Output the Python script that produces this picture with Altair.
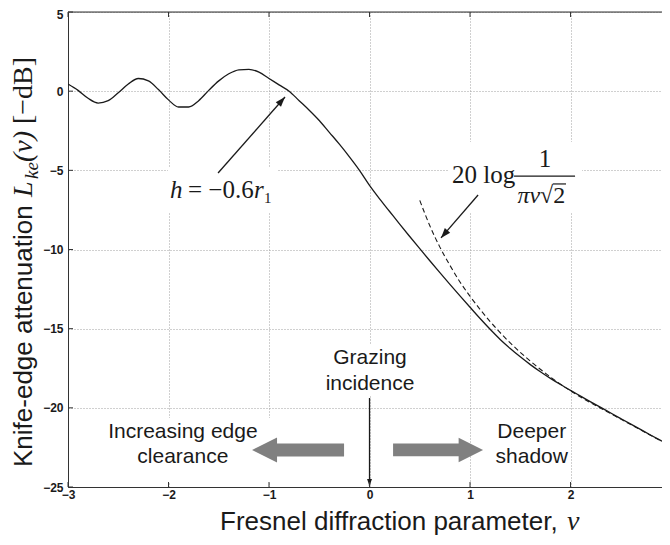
import altair as alt
import pandas as pd

# ---- data ----
v_solid = [-3.0, -2.9, -2.8, -2.7, -2.6, -2.5, -2.4, -2.3, -2.2, -2.1,
           -2.0, -1.9, -1.8, -1.7, -1.6, -1.5, -1.4, -1.3, -1.2, -1.1,
           -1.0, -0.9, -0.8, -0.7, -0.6, -0.5, -0.4, -0.3, -0.2, -0.1,
           0.0, 0.1, 0.2, 0.3, 0.4, 0.5, 0.6, 0.7, 0.8, 0.9,
           1.0, 1.1, 1.2, 1.3, 1.4, 1.5, 1.6, 1.7, 1.8, 1.9,
           2.0, 2.1, 2.2, 2.3, 2.4, 2.5, 2.6, 2.7, 2.8, 2.9, 3.0]
L_solid = [0.45, 0.05, -0.45, -0.75, -0.6, -0.1, 0.45, 0.8, 0.65, 0.1,
           -0.55, -1.0, -1.0, -0.6, 0.05, 0.65, 1.1, 1.35, 1.38, 1.2,
           0.8, 0.4, 0.0, -0.6, -1.2, -1.85, -2.6, -3.35, -4.15, -5.0,
           -5.95, -6.8, -7.6, -8.4, -9.18, -9.95, -10.71, -11.46, -12.2, -12.93,
           -13.65, -14.36, -15.04, -15.68, -16.25, -16.78, -17.27, -17.72, -18.14, -18.53,
           -18.9, -19.26, -19.62, -19.97, -20.33, -20.68, -21.03, -21.38, -21.73, -22.07, -22.4]
v_dash = [0.5, 0.6, 0.7, 0.8, 0.9, 1.0, 1.2, 1.4, 1.6, 1.8, 2.0, 2.2, 2.4, 2.6, 2.8, 3.0]
L_dash = [-6.9, -8.5, -9.85, -11.0, -12.05, -12.95, -14.55, -15.9, -17.05, -18.05,
          -18.93, -19.68, -20.37, -21.06, -21.75, -22.43]
x_ticks = [-3, -2, -1, 0, 1, 2, 3]
y_ticks = [-25, -20, -15, -10, -5, 0, 5]

W, H = 594, 475
SANS = "Liberation Sans"
SERIF = "Liberation Serif"
INK = "#1a1a1a"

xs = alt.Scale(domain=[-3, 2.91], nice=False, zero=False)
ys = alt.Scale(domain=[-25, 5], nice=False, zero=False)

x_axis = alt.Axis(values=x_ticks, title=None, ticks=False, labelFont=SANS, labelFontWeight="bold",
                  labelFontSize=12, labelColor=INK, labelPadding=2, labelFlush=False,
                  labelOverlap=False, domainColor="#333", domainWidth=1,
                  gridColor="#a0a0a0", gridDash=[1, 2], gridWidth=1)
y_axis = alt.Axis(values=y_ticks, title=None, ticks=False, labelFont=SANS, labelFontWeight="bold",
                  labelFontSize=12, labelColor=INK, labelPadding=5, labelFlush=False,
                  labelOverlap=False, domainColor="#333", domainWidth=1,
                  labelOffset={"condition": {"test": "datum.value == 5", "value": 2}, "value": 0},
                  gridColor="#a0a0a0", gridDash=[1, 2], gridWidth=1)

X = alt.X("v:Q", scale=xs, axis=x_axis)
Y = alt.Y("L:Q", scale=ys, axis=y_axis)

solid_df = pd.DataFrame({"v": v_solid, "L": L_solid})
dash_df = pd.DataFrame({"v": v_dash, "L": L_dash})

# white boxes behind labels (hide the grid as in the reference)
box_df = pd.DataFrame({
    "v": [-2.005, 0.781, -2.682, -0.363],
    "v2": [-0.92, 2.114, -0.194, 0.403],
    "L": [-4.79, -3.21, -20.64, -16.03],
    "L2": [-7.70, -7.70, -24.68, -19.19],
})
boxes = alt.Chart(box_df).mark_rect(color="white").encode(
    x=X, x2="v2:Q", y=Y, y2="L2:Q")

solid = alt.Chart(solid_df).mark_line(color=INK, strokeWidth=1.3, clip=True,
                                      interpolate="monotone").encode(x=X, y=Y)
dashed = alt.Chart(dash_df).mark_line(color=INK, strokeWidth=1.1, strokeDash=[5, 3], clip=True,
                                      interpolate="monotone").encode(x=X, y=Y)

# thin arrows
arr_df = pd.DataFrame({
    "v": [-1.507, 1.080, 0.0],
    "L": [-5.17, -6.56, -19.38],
    "v2": [-0.841, 0.711, 0.0],
    "L2": [-0.37, -9.27, -24.94],
    "ang": [41.4, 220.7, 180.0],
    "sz": [278, 278, 136],
})
arr_lines = alt.Chart(arr_df).mark_rule(color=INK, strokeWidth=1.3).encode(
    x=X, x2="v2:Q", y=Y, y2="L2:Q")
head_path = "M0,0L-0.42,1.2L0.42,1.2Z"
arr_heads = alt.Chart(arr_df).mark_point(shape=head_path, filled=True, color=INK, opacity=1,
                                         strokeWidth=0).encode(
    x=alt.X("v2:Q", scale=xs, axis=x_axis), y=alt.Y("L2:Q", scale=ys, axis=y_axis),
    angle=alt.Angle("ang:Q", scale=None), size=alt.Size("sz:Q", scale=None))

# thick grey arrows
big_path = "M-1,0L-0.457,-0.272L-0.457,-0.141L1,-0.141L1,0.141L-0.457,0.141L-0.457,0.272Z"
big_df = pd.DataFrame({"v": [-0.711, 0.682], "L": [-22.66, -22.66],
                       "ang": [0.0, 180.0], "sz": [8464, 8100]})
big_arrows = alt.Chart(big_df).mark_point(shape=big_path, filled=True, color="#808080",
                                          opacity=1, strokeWidth=0).encode(
    x=X, y=Y, angle=alt.Angle("ang:Q", scale=None), size=alt.Size("sz:Q", scale=None))

# sans annotations
sans_df = pd.DataFrame({
    "v": [0.005, 0.005, -1.857, -1.857, 1.614, 1.614],
    "L": [-17.23, -18.87, -21.90, -23.48, -21.90, -23.48],
    "t": ["Grazing", "incidence", "Increasing edge", "clearance", "Deeper", "shadow"],
})
sans_text = alt.Chart(sans_df).mark_text(font=SANS, fontSize=21, color=INK, align="center",
                                         baseline="alphabetic").encode(x=X, y=Y, text="t:N")


def piece(v, L, txt, size=24, italic=False, align="left", dx=0, dy=0, font=SERIF):
    df = pd.DataFrame({"v": [v], "L": [L], "t": [txt]})
    kw = dict(font=font, fontSize=size, color=INK, align=align, baseline="alphabetic", dx=dx, dy=dy)
    if italic:
        kw["fontStyle"] = "italic"
    return alt.Chart(df).mark_text(**kw).encode(x=X, y=Y, text="t:N")


# h = -0.6 r1
h_v, h_L = -1.985, -6.75
h_parts = [
    piece(h_v, h_L, "h", size=25, italic=True),
    piece(h_v, h_L, "= \u22120.6", size=25, dx=18),
    piece(h_v, h_L, "r", size=25, italic=True, dx=84),
    piece(h_v, h_L, "1", size=15, dx=94, dy=5),
]

# 20 log 1/(pi v sqrt2)
f_parts = [
    piece(0.821, -5.80, "20 log", size=25),
    piece(1.746, -4.79, "1", size=25, align="center"),
    piece(1.697, -7.06, "\u03c0v", size=24, italic=True, align="right"),
    piece(1.697, -7.06, "\u221a2", size=24, align="left"),
]
frac_df = pd.DataFrame({"v": [1.438, 1.826], "v2": [2.045, 1.955], "L": [-5.36, -5.86]})
frac_line = alt.Chart(frac_df).mark_rule(color=INK, strokeWidth=1.2).encode(x=X, x2="v2:Q", y=Y)

# axis titles (pixel anchored, outside the plot)
ytitle_parts = []
for txt, dx, dy, size, fnt, it in [
    ("Knife-edge attenuation", 0, 0, 26, SANS, False),
    ("L", 270, 0, 28, SERIF, True),
    ("ke", 288, 6, 19, SERIF, True),
    ("(v)", 305, 0, 28, SERIF, True),
    ("[\u2212dB]", 343, 0, 28, SERIF, False),
]:
    kw = dict(font=fnt, fontSize=size, color=INK, align="left", baseline="alphabetic",
              angle=270, dx=dx, dy=dy)
    if it:
        kw["fontStyle"] = "italic"
    ytitle_parts.append(alt.Chart(pd.DataFrame({"t": [txt]})).mark_text(**kw).encode(
        x=alt.value(-36), y=alt.value(455), text="t:N"))

xtitle_parts = [
    alt.Chart(pd.DataFrame({"t": ["Fresnel diffraction parameter,"]})).mark_text(
        font=SANS, fontSize=26, color=INK, align="left", baseline="alphabetic").encode(
        x=alt.value(152), y=alt.value(518), text="t:N"),
    alt.Chart(pd.DataFrame({"t": ["v"]})).mark_text(
        font=SERIF, fontSize=28, fontStyle="italic", color=INK, align="left",
        baseline="alphabetic").encode(x=alt.value(499), y=alt.value(518), text="t:N"),
]

# inward ticks and top border
xt_df = pd.DataFrame({"v": [t for t in x_ticks if t < 2.91]})
yt_df = pd.DataFrame({"L": y_ticks})
top_ticks = alt.Chart(xt_df).mark_rule(color="#333").encode(x=X, y=alt.value(0), y2=alt.value(5))
bot_ticks = alt.Chart(xt_df).mark_rule(color="#333").encode(x=X, y=alt.value(H - 5), y2=alt.value(H))
left_ticks = alt.Chart(yt_df).mark_rule(color="#333").encode(y=Y, x=alt.value(0), x2=alt.value(5))
top_border = alt.Chart(pd.DataFrame({"a": [0]})).mark_rule(color="#333", strokeWidth=1).encode(
    x=alt.value(0), x2=alt.value(W), y=alt.value(0))

chart = alt.layer(
    boxes, solid, dashed, frac_line, arr_lines, arr_heads, big_arrows, sans_text,
    *h_parts, *f_parts, *ytitle_parts, *xtitle_parts,
    top_ticks, bot_ticks, left_ticks, top_border,
).properties(
    width=W, height=H,
    autosize=alt.AutoSizeParams(type="none"),
    padding={"left": 60, "top": 4, "right": 0, "bottom": 50},
).configure_view(stroke=None).configure(background="white")

chart.save("out.html", embed_options={"renderer": "svg", "actions": False})
